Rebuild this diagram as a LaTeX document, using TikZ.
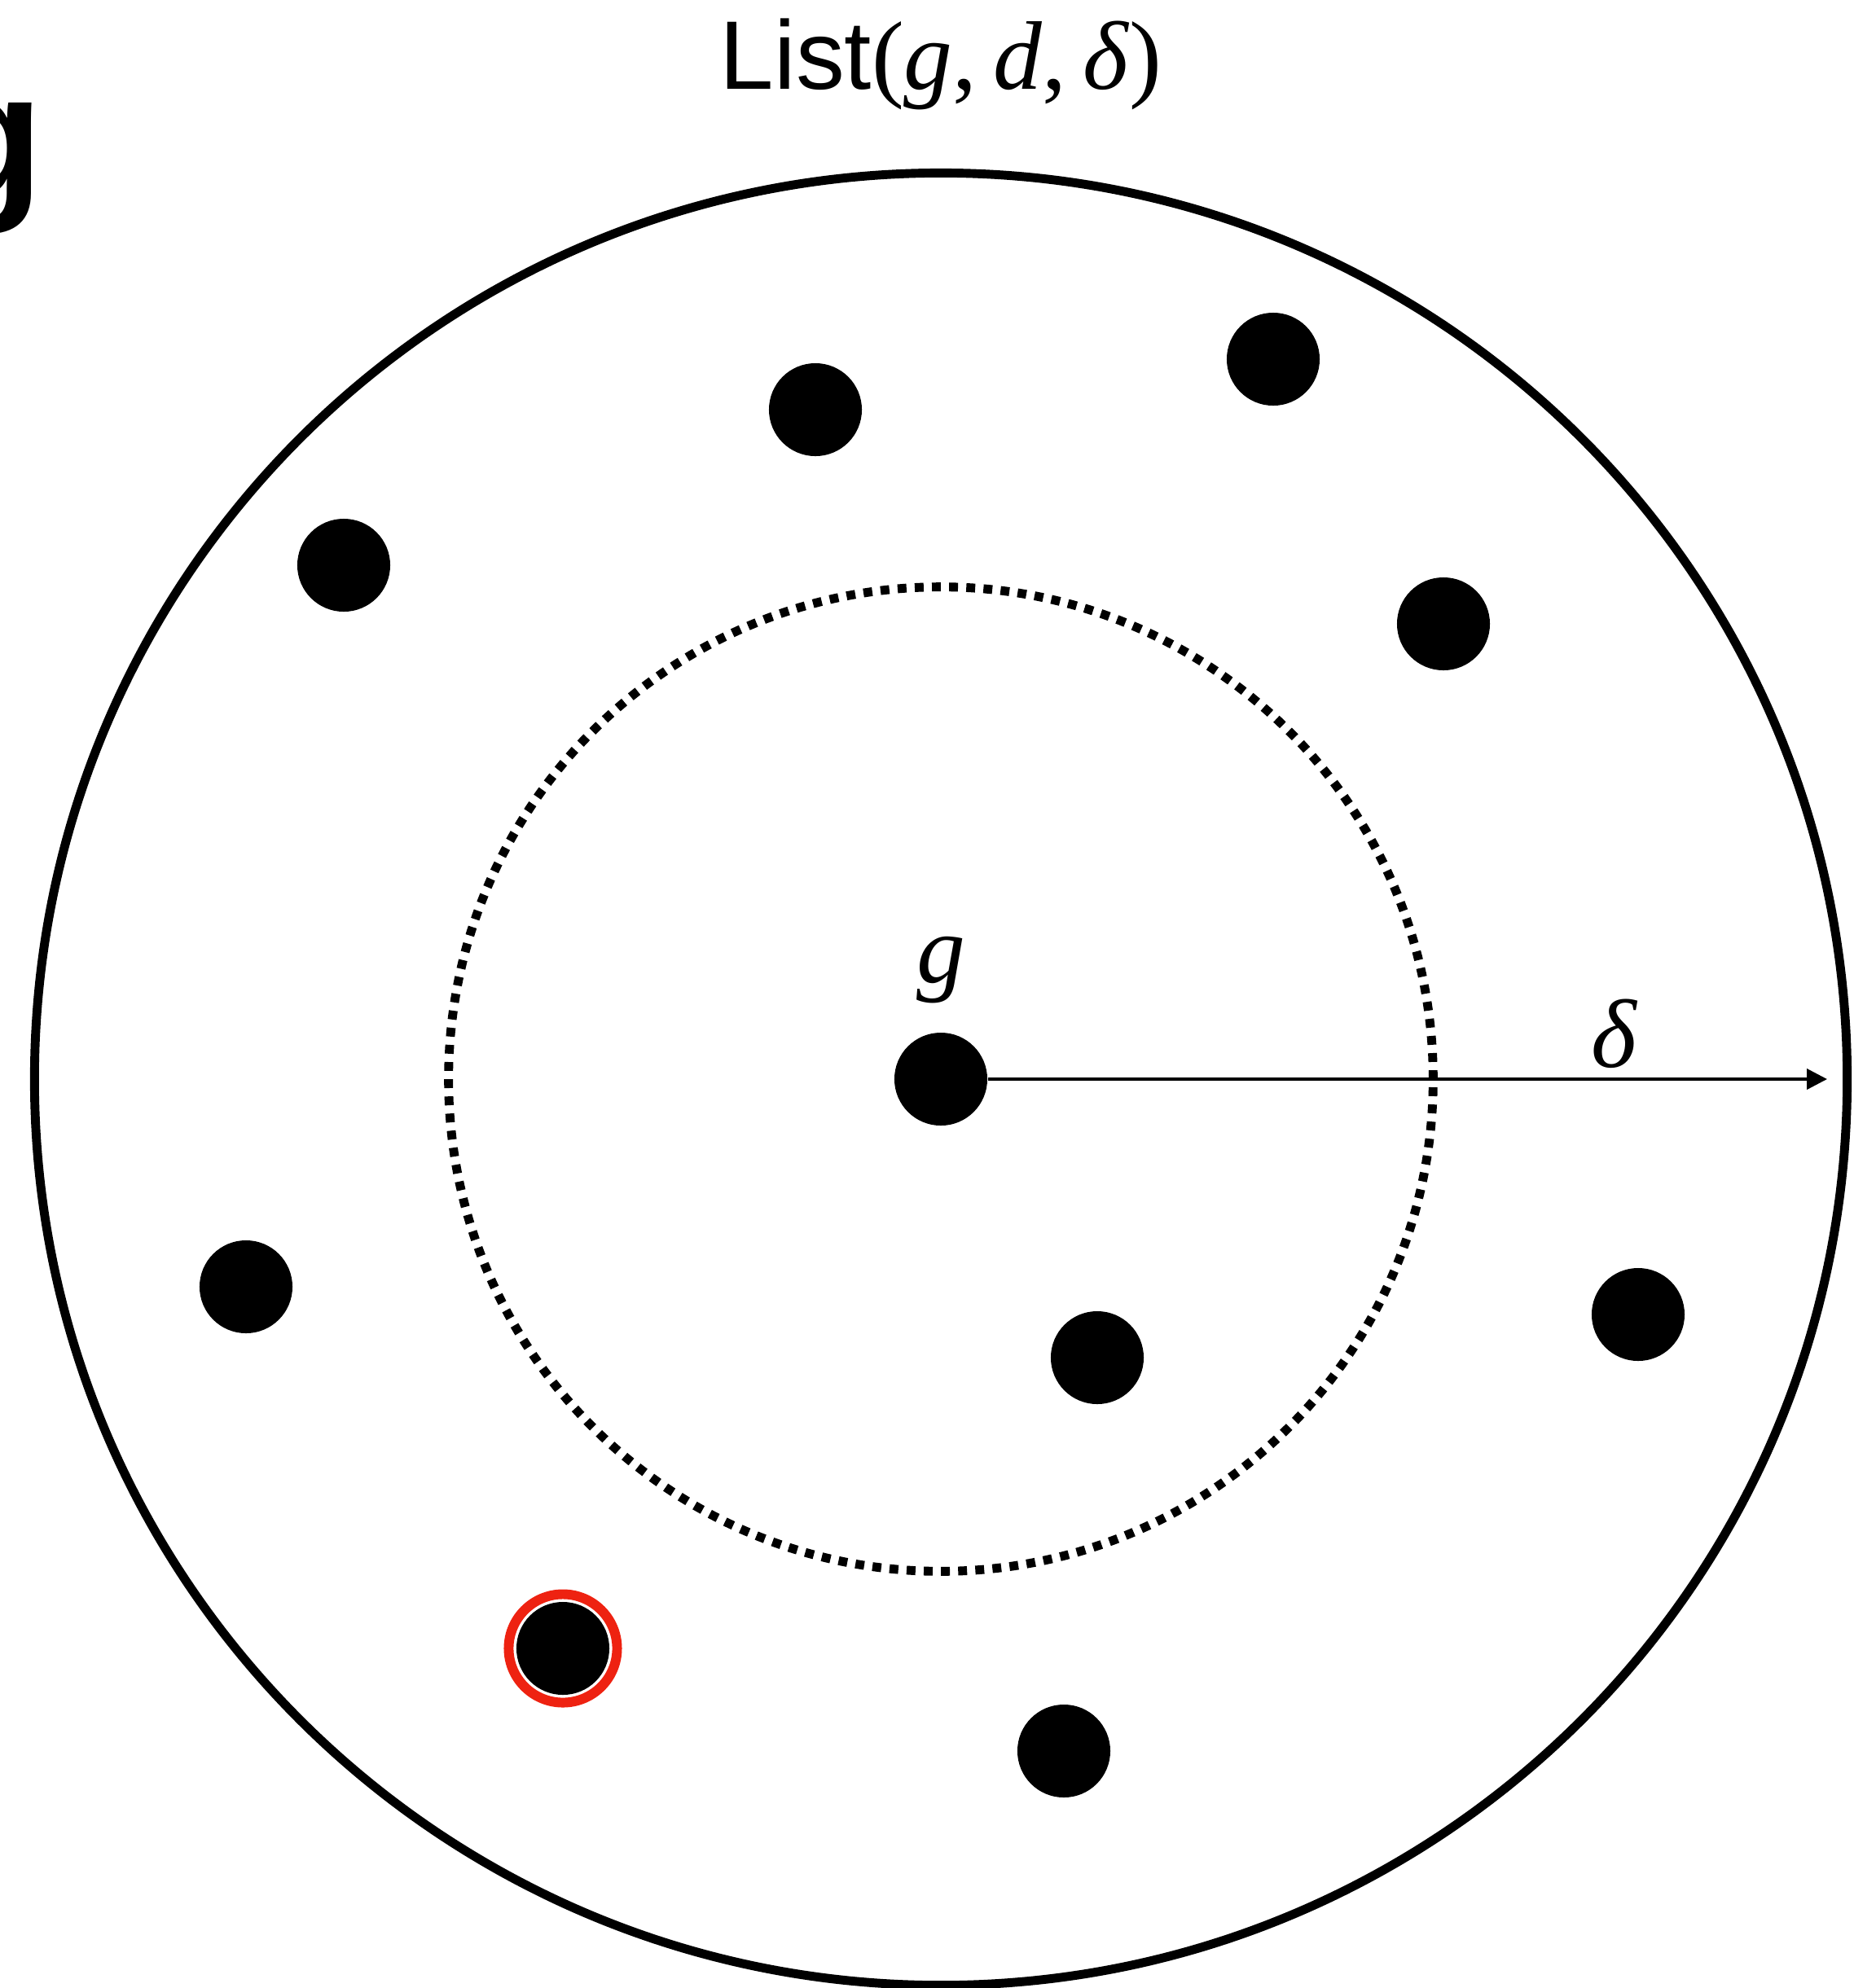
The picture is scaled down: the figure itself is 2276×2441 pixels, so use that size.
\documentclass[tikz,border=0pt]{standalone}
\usepackage{fontspec}
\setmainfont{Liberation Serif}
\newfontfamily\listfont{Liberation Sans}
\usetikzlibrary{arrows.meta,positioning}
\definecolor{ringred}{RGB}{238,34,17}
\tikzset{
	pt/.style={circle, fill=black, inner sep=0pt, minimum size=1.14cm},
	pickring/.style={circle, draw=ringred, line width=3.4pt, inner sep=0pt, minimum size=1.33cm},
	arrow/.style={-{Triangle[length=2.5mm, width=2.5mm]}, line width=1.15pt},
	mathlbl/.style={inner sep=0pt, font=\fontsize{34}{40}\selectfont\itshape}
}

\begin{document}
\begin{tikzpicture}[x=0.01cm, y=-0.01cm,
	ball/.style={line width=3.1pt},
	innerball/.style={line width=3.1pt, dash pattern=on 3.1pt off 2.9pt},
	]
	\useasboundingbox (0,0) rectangle (2276,2441);
	
	%% -- Panel letter (cut at the left edge)
	\node[inner sep=0pt, anchor=base east,
	font=\listfont\bfseries\fontsize{62}{70}\selectfont] (panel) at (54,241) {g};
	
	%% -- Title
	\node[inner sep=0pt, anchor=base, font=\fontsize{34}{40}\selectfont] (title) at (1155,109)
	{{\listfont List}(\textit{g},\,\textit{d},\,\textit{δ})};
	
	%% -- The two balls round g
	\coordinate (o) at (1155,1325);
	\draw[ball] (o) circle[radius=11.12cm];
	\draw[innerball] (o) circle[radius=6.04cm];
	
	%% -- Centre and radius
	\node[pt] (g) at (o) {};
	\node[mathlbl, above=3.5mm of g] (glbl) {g};
	\coordinate (rim) at (2243,1325);
	\draw[arrow] (g) -- (rim);
	\node[mathlbl, anchor=base] (dlbl) at (1981,1310) {δ};
	
	%% -- Points of the list
	\node[pt] (p1) at (1001,503) {};
	\node[pt] (p2) at (1563,441) {};
	\node[pt] (p3) at (422,694) {};
	\node[pt] (p4) at (1772,766) {};
	\node[pt] (p5) at (302,1580) {};
	\node[pt] (p6) at (1347,1667) {};
	\node[pt] (p7) at (2011,1614) {};
	\node[pt] (p8) at (691,2024) {};
	\node[pt] (p9) at (1306,2150) {};
	
	%% -- The picked point
	\node[pickring] (pick) at (p8) {};
	
\end{tikzpicture}
\end{document}
